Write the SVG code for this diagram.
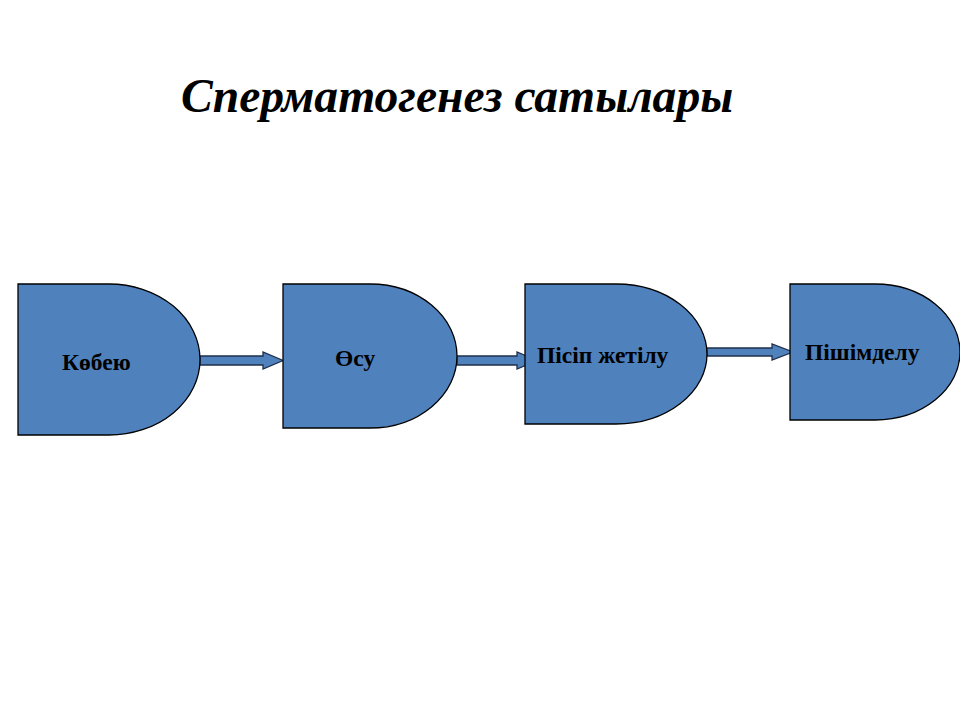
<svg xmlns="http://www.w3.org/2000/svg" width="960" height="720" viewBox="0 0 960 720">
<style>
.node{fill:#4F81BD;stroke:#000;stroke-width:1.3}
.lbl{font-family:"Liberation Serif","Times New Roman",serif;font-weight:bold;font-size:23.5px;fill:#000}
.arr{fill:#4F81BD;stroke:#1F2F4A;stroke-width:1.3}
.title{font-family:"Liberation Serif","Times New Roman",serif;font-weight:bold;font-style:italic;font-size:47.6px;fill:#000}
</style>
<rect width="960" height="720" fill="#fff"/>
<text class="title" x="181" y="112">Сперматогенез сатылары</text>
<g id="connectors">
<path class="arr" d="M200,356 H263 V352 L283,360.5 L263,369 V365 H200 Z"/>
<path class="arr" d="M457,356 H517 V352 L537,360.5 L517,369 V365 H457 Z"/>
<path class="arr" d="M707,348 H772 V344 L793,352 L772,360 V356 H707 Z"/>
</g>
<g id="n1">
<path class="node" d="M18,284 H109 A91,75.5 0 0 1 109,435 H18 Z"/>
<text class="lbl" x="62" y="370">Көбею</text>
</g>
<g id="n2">
<path class="node" d="M283,284 H370 A87,72 0 0 1 370,428 H283 Z"/>
<text class="lbl" x="335" y="366">Өсу</text>
</g>
<g id="n3">
<path class="node" d="M525,284 H616 A91,70 0 0 1 616,424 H525 Z"/>
<text class="lbl" x="537" y="363">Пісіп жетілу</text>
</g>
<g id="n4">
<path class="node" d="M790,284 H875 A85,68 0 0 1 875,420 H790 Z"/>
<text class="lbl" x="805" y="360">Пішімделу</text>
</g>
</svg>
